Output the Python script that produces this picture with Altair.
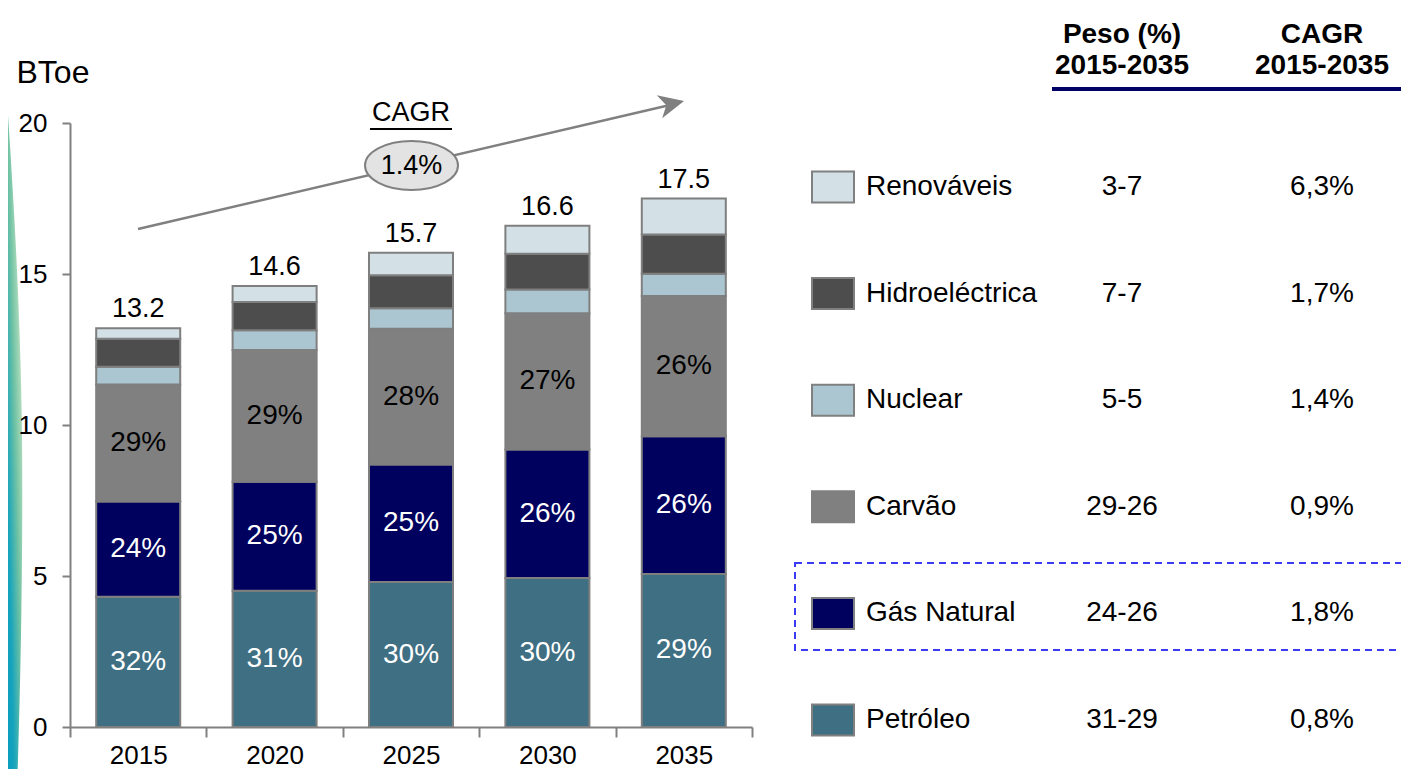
import altair as alt
import pandas as pd

FONT = "Liberation Sans"

# ---------------- data ----------------
years = ["2015", "2020", "2025", "2030", "2035"]
fuels = ["Petróleo", "Gás Natural", "Carvão", "Nuclear", "Hidroeléctrica", "Renováveis"]  # bottom -> top
colors = ["#3F6F82", "#00005E", "#808080", "#ABC6D0", "#4D4D4D", "#D3E0E6"]

petroleo = [4.31, 4.51, 4.80, 4.93, 5.07]
gas_natural = [3.16, 3.61, 3.89, 4.26, 4.56]
carvao = [3.87, 4.36, 4.50, 4.51, 4.64]
nuclear = [0.59, 0.66, 0.68, 0.79, 0.74]
hidroelectrica = [0.93, 0.93, 1.09, 1.18, 1.30]
renovaveis = [0.34, 0.53, 0.74, 0.93, 1.19]

pct_petroleo = ["32%", "31%", "30%", "30%", "29%"]
pct_gas = ["24%", "25%", "25%", "26%", "26%"]
pct_carvao = ["29%", "29%", "28%", "27%", "26%"]

peso = ["31-29", "24-26", "29-26", "5-5", "7-7", "3-7"]      # same order as fuels
cagr = ["0,8%", "1,8%", "0,9%", "1,4%", "1,7%", "6,3%"]
cagr_total = "1.4%"

table_cols = ["peso", "cagr"]
header_line1 = ["Peso (%)", "CAGR"]
header_line2 = ["2015-2035", "2015-2035"]

# ---------------- tables ----------------
series = [petroleo, gas_natural, carvao, nuclear, hidroelectrica, renovaveis]
pct_map = {"Petróleo": pct_petroleo, "Gás Natural": pct_gas, "Carvão": pct_carvao}
rows = []
for i, yr in enumerate(years):
    cum = 0.0
    for k, f in enumerate(fuels):
        v = series[k][i]
        rows.append(dict(year=yr, fuel=f, order=k, value=v, mid=cum + v / 2,
                         label=pct_map[f][i] if f in pct_map else ""))
        cum += v
df = pd.DataFrame(rows)
df_lab = df[df["label"] != ""]

tab_rows = []
for k, f in enumerate(fuels):
    tab_rows.append(dict(fuel=f, col="peso", text=peso[k]))
    tab_rows.append(dict(fuel=f, col="cagr", text=cagr[k]))
df_tab = pd.DataFrame(tab_rows)
df_names = pd.DataFrame({"fuel": fuels})
df_head = pd.DataFrame({"col": table_cols, "l1": header_line1, "l2": header_line2})
one = pd.DataFrame({"a": [0]})

# ---------------- scales ----------------
GRAY = "#808080"
TXT = 28


def yscale():
    return alt.Scale(domain=[0, 20], nice=False)


def xband():
    return alt.Scale(domain=years, paddingInner=0, paddingOuter=0)


cscale = alt.Scale(domain=fuels, range=colors)

X = alt.X("year:N", scale=xband(), sort=years,
          axis=alt.Axis(title=None, labelAngle=0, tickBand="extent", tickSize=10,
                        tickColor=GRAY, tickWidth=2, domainColor=GRAY, domainWidth=2,
                        labelFontSize=26, labelColor="black", labelPadding=5, grid=False,
                        zindex=1))

bars = alt.Chart(df).mark_bar(width=alt.RelativeBandSize(0.616), stroke="#7F7F7F",
                              strokeWidth=2).encode(
    x=X,
    y=alt.Y("value:Q", stack="zero", scale=yscale(),
            axis=alt.Axis(values=[0, 5, 10, 15, 20], tickSize=8, tickColor=GRAY, tickWidth=2,
                          domainColor=GRAY, domainWidth=2, labelFontSize=26, labelColor="black",
                          labelPadding=15, grid=False, title="BToe", titleAngle=0,
                          titleX=-54, titleY=-51, titleAlign="left", titleBaseline="middle",
                          titleFontSize=32, titleFontWeight="normal", titleColor="black",
                          zindex=1)),
    color=alt.Color("fuel:N", scale=cscale, legend=None),
    order=alt.Order("order:Q"),
)

pct = alt.Chart(df_lab).mark_text(fontSize=28, baseline="middle").encode(
    x=alt.X("year:N", scale=xband(), sort=years, axis=None),
    y=alt.Y("mid:Q", scale=yscale(), axis=None),
    text="label:N",
    color=alt.condition("datum.fuel == 'Carvão'", alt.value("black"), alt.value("white")),
)

totals = alt.Chart(df).transform_aggregate(
    total="sum(value)", groupby=["year"]
).mark_text(fontSize=27, baseline="alphabetic", dy=-11, color="black").encode(
    x=alt.X("year:N", scale=xband(), sort=years, axis=None),
    y=alt.Y("total:Q", scale=yscale(), axis=None),
    text=alt.Text("total:Q", format=".1f"),
)

# ---------------- right-hand table ----------------
def ytab():
    return alt.Y("fuel:N", scale=alt.Scale(type="point", domain=fuels[::-1], range=[64, 597],
                                           padding=0), axis=None)


def xtab():
    return alt.X("col:N", scale=alt.Scale(type="point", domain=table_cols, range=[1052, 1252],
                                          padding=0), axis=None)


RECT = "M-1,-0.738L1,-0.738L1,0.738L-1,0.738Z"
squares = alt.Chart(df_names).mark_point(shape=RECT, size=42 * 42, filled=True, opacity=1,
                                         stroke=GRAY, strokeWidth=2, strokeOpacity=1).encode(
    x=alt.value(763), y=ytab(),
    fill=alt.Fill("fuel:N", scale=cscale, legend=None),
)
names = alt.Chart(df_names).mark_text(align="left", baseline="middle", fontSize=TXT,
                                      color="black").encode(
    x=alt.value(796), y=ytab(), text="fuel:N")
values = alt.Chart(df_tab).mark_text(align="center", baseline="middle", fontSize=TXT,
                                     color="black").encode(
    x=xtab(), y=ytab(), text="text:N")
head1 = alt.Chart(df_head).mark_text(align="center", baseline="middle", fontSize=TXT,
                                     fontWeight="bold", color="black").encode(
    x=xtab(), y=alt.value(-88), text="l1:N")
head2 = alt.Chart(df_head).mark_text(align="center", baseline="middle", fontSize=TXT,
                                     fontWeight="bold", color="black").encode(
    x=xtab(), y=alt.value(-57), text="l2:N")

# ---------------- decorations ----------------
underline = alt.Chart(one).mark_rule(color="#000066", strokeWidth=4).encode(
    x=alt.value(982), x2=alt.value(1345), y=alt.value(-34))
box = alt.Chart(one).mark_rect(fillOpacity=0, stroke="#3B3BF5", strokeWidth=2,
                               strokeDash=[7, 5]).encode(
    x=alt.value(725), x2=alt.value(1360), y=alt.value(440), y2=alt.value(527))

arrow_line = alt.Chart(one).mark_rule(color=GRAY, strokeWidth=2.5).encode(
    x=alt.value(68), y=alt.value(106), x2=alt.value(600), y2=alt.value(-18))
ARROW = "M1,0L-0.8,-0.85L-0.3,0L-0.8,0.85Z"
arrow_head = alt.Chart(one).mark_point(shape=ARROW, size=28 * 28, filled=True, opacity=1,
                                       color=GRAY, angle=346.9).encode(
    x=alt.value(600.4), y=alt.value(-18.8))
ELLIPSE = "M-1,0A1,0.527,0,1,1,1,0A1,0.527,0,1,1,-1,0Z"
ellipse = alt.Chart(one).mark_point(shape=ELLIPSE, size=93 * 93, filled=True, opacity=1,
                                    fill="#E3E3E3", stroke=GRAY, strokeWidth=2,
                                    strokeOpacity=1).encode(
    x=alt.value(341.5), y=alt.value(42.5))
cagr_val = alt.Chart(one).mark_text(fontSize=27, align="center", baseline="middle",
                                    color="black", text=cagr_total).encode(
    x=alt.value(341.5), y=alt.value(43))
cagr_title = alt.Chart(one).mark_text(fontSize=27, align="center", baseline="middle",
                                      color="black", text="CAGR").encode(
    x=alt.value(341), y=alt.value(-10))
cagr_ul = alt.Chart(one).mark_rule(color="black", strokeWidth=2).encode(
    x=alt.value(300), x2=alt.value(382), y=alt.value(6))

SWOOSH = ("M-0.01,-0.85C0.02,-0.45,0.036,-0.1,0.037,0.2"
          "C0.038,0.5,0.032,0.8,0.023,1.05L-0.01,1.05Z")
swoosh = alt.Chart(one).mark_point(
    shape=SWOOSH, size=770 * 770, filled=True, opacity=1, strokeWidth=0,
    fill=alt.LinearGradient(
        gradient="linear", x1=0, y1=1, x2=1, y2=0,
        stops=[alt.GradientStop(color="#0098C2", offset=0),
               alt.GradientStop(color="#17A4BC", offset=0.3),
               alt.GradientStop(color="#6FC2A4", offset=0.55),
               alt.GradientStop(color="#B9E0C0", offset=0.78),
               alt.GradientStop(color="#FFFFFF", offset=1)])).encode(
    x=alt.value(-62), y=alt.value(266))

chart = alt.layer(
    swoosh, bars, pct, totals, squares, names, values, head1, head2,
    box, underline, arrow_line, arrow_head, ellipse, cagr_val, cagr_title, cagr_ul,
).resolve_scale(x="independent", y="independent").properties(
    width=682, height=604,
    padding={"left": 62, "top": 115, "right": 649, "bottom": 42},
    autosize=alt.AutoSizeParams(type="none"),
).configure(font=FONT).configure_view(stroke="transparent")

chart.save("out.html", embed_options={"renderer": "svg", "actions": False})
